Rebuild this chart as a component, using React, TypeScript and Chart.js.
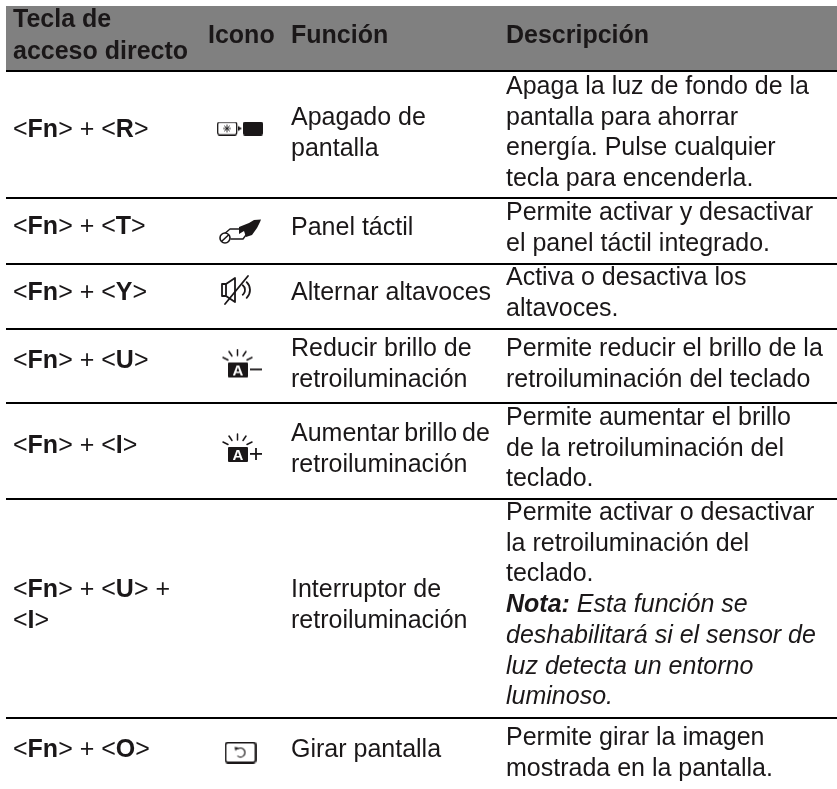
import React, { useEffect, useRef } from "react";
import { Chart, registerables } from "chart.js";

Chart.register(...registerables);

// ---- Table content ----
const headerKey = ["Tecla de", "acceso directo"];
const headerIcon = "Icono";
const headerFunction = "Función";
const headerDescription = "Descripción";

const hotkeys: string[][] = [
  ["<*Fn*> + <*R*>"],
  ["<*Fn*> + <*T*>"],
  ["<*Fn*> + <*Y*>"],
  ["<*Fn*> + <*U*>"],
  ["<*Fn*> + <*I*>"],
  ["<*Fn*> + <*U*> +", "<*I*>"],
  ["<*Fn*> + <*O*>"],
];
const functions: string[][] = [
  ["Apagado de", "pantalla"],
  ["Panel táctil"],
  ["Alternar altavoces"],
  ["Reducir brillo de", "retroiluminación"],
  ["Aumentar brillo de", "retroiluminación"],
  ["Interruptor de", "retroiluminación"],
  ["Girar pantalla"],
];
const descriptions: string[][] = [
  ["Apaga la luz de fondo de la", "pantalla para ahorrar", "energía. Pulse cualquier", "tecla para encenderla."],
  ["Permite activar y desactivar", "el panel táctil integrado."],
  ["Activa o desactiva los", "altavoces."],
  ["Permite reducir el brillo de la", "retroiluminación del teclado"],
  ["Permite aumentar el brillo", "de la retroiluminación del", "teclado."],
  ["Permite activar o desactivar", "la retroiluminación del", "teclado.", "~*Nota:*~ ~Esta función se~", "~deshabilitará si el sensor de~", "~luz detecta un entorno~", "~luminoso.~"],
  ["Permite girar la imagen", "mostrada en la pantalla."],
];

// ---- Values on the page scale ----
const columnStarts = [13, 208, 291, 506];
const ruleRows = [71, 198, 264, 329, 403, 499, 718];
const keyBaselines = [137, 234, 300, 368, 453, 597, 757];
const functionBaselines = [125, 235, 300, 356, 441, 597, 757];
const descriptionBaselines = [94, 220, 285, 356, 425, 520, 745];
const iconCenters = [241, 241, 238, 242, 242, NaN, 240.5];
const iconRows = [128.5, 231.5, 290, 363.5, 448, NaN, 752.5];

const INK = "#1a1718";
const FONT = '"Liberation Sans", Arial, sans-serif';
const SIZE = 25;
const LINE = 30.7;

function sprite(w: number, h: number, draw: (c: CanvasRenderingContext2D) => void) {
  const el = document.createElement("canvas");
  el.width = w;
  el.height = h;
  const c = el.getContext("2d")!;
  c.strokeStyle = INK;
  c.fillStyle = INK;
  c.lineCap = "round";
  c.lineJoin = "round";
  draw(c);
  return el;
}

function rr(c: CanvasRenderingContext2D, x: number, y: number, w: number, h: number, r: number) {
  c.beginPath();
  c.roundRect(x, y, w, h, r);
}

const burst = (c: CanvasRenderingContext2D) => {
  c.lineWidth = 1.5;
  const segs = [
    [16.5, 1, 16.5, 7],
    [8, 3, 11, 7.5],
    [25, 3, 22, 7.5],
    [2, 9, 7, 11.5],
    [31, 9, 26, 11.5],
  ];
  for (const s of segs) {
    c.beginPath();
    c.moveTo(s[0], s[1]);
    c.lineTo(s[2], s[3]);
    c.stroke();
  }
  rr(c, 7, 14, 20, 15, 1);
  c.fill();
  c.fillStyle = "#fff";
  c.font = `bold 15px ${FONT}`;
  c.textAlign = "center";
  c.fillText("A", 17, 27);
  c.fillStyle = INK;
};

function makeIcons() {
  const display = sprite(48, 14, (c) => {
    c.lineWidth = 1.3;
    rr(c, 0.7, 0.7, 19, 12.6, 2);
    c.stroke();
    c.lineWidth = 0.9;
    for (let i = 0; i < 4; i++) {
      const a = (i * Math.PI) / 4;
      c.beginPath();
      c.moveTo(10 - 3.5 * Math.cos(a), 7 - 3.5 * Math.sin(a));
      c.lineTo(10 + 3.5 * Math.cos(a), 7 + 3.5 * Math.sin(a));
      c.stroke();
    }
    c.beginPath();
    c.moveTo(21, 4.5);
    c.lineTo(25, 7);
    c.lineTo(21, 9.5);
    c.closePath();
    c.fill();
    rr(c, 26, 0, 20, 14, 2);
    c.fill();
  });
  const touch = sprite(44, 25, (c) => {
    c.lineWidth = 1.4;
    c.beginPath();
    c.moveTo(11, 10);
    c.lineTo(4, 16);
    c.moveTo(11, 10);
    c.lineTo(28, 10);
    c.moveTo(12, 20);
    c.lineTo(24, 20);
    c.lineTo(27, 16);
    c.stroke();
    c.beginPath();
    c.arc(6, 19, 5, 0, Math.PI * 2);
    c.fillStyle = "#fff";
    c.fill();
    c.lineWidth = 1.6;
    c.stroke();
    c.beginPath();
    c.moveTo(3, 22);
    c.lineTo(9.5, 16);
    c.stroke();
    c.fillStyle = INK;
    c.beginPath();
    c.moveTo(20, 8);
    c.lineTo(30, 4);
    c.lineTo(35, 1);
    c.lineTo(42, 0.5);
    c.lineTo(41, 3);
    c.lineTo(38, 9);
    c.lineTo(33, 16);
    c.lineTo(27, 18);
    c.lineTo(25, 12);
    c.lineTo(20, 15);
    c.closePath();
    c.fill();
  });
  const speaker = sprite(34, 32, (c) => {
    c.lineWidth = 1.8;
    c.beginPath();
    c.rect(1, 10, 4, 12);
    c.moveTo(5, 10);
    c.lineTo(14, 4);
    c.lineTo(14, 28);
    c.lineTo(5, 22);
    c.stroke();
    c.beginPath();
    c.moveTo(4, 30);
    c.lineTo(27, 2);
    c.stroke();
    c.beginPath();
    c.arc(18, 16, 6, -0.9, 0.9);
    c.stroke();
    c.beginPath();
    c.arc(18, 16, 11, -0.8, 0.8);
    c.stroke();
  });
  const dim = sprite(42, 30, (c) => {
    burst(c);
    c.fillRect(29, 20, 12, 1.8);
  });
  const bright = sprite(42, 30, (c) => {
    burst(c);
    c.fillRect(29, 20, 12, 1.8);
    c.fillRect(34.1, 15, 1.8, 12);
  });
  const rotate = sprite(32, 22, (c) => {
    c.lineWidth = 1.8;
    rr(c, 1, 1, 30, 20, 2.5);
    c.stroke();
    c.lineWidth = 1.2;
    c.beginPath();
    c.arc(16, 11, 4.5, -2.2, 2.2);
    c.stroke();
    c.beginPath();
    c.moveTo(10, 5.5);
    c.lineTo(14, 6);
    c.lineTo(11, 9.5);
    c.closePath();
    c.fill();
  });
  return [display, touch, speaker, dim, bright, null, rotate];
}

type Run = { text: string; bold: boolean; italic: boolean };

// "*" toggles bold and "~" toggles italic inside a table string.
function parseRuns(s: string): Run[] {
  const runs: Run[] = [];
  let bold = false;
  let italic = false;
  let buf = "";
  const flush = () => {
    if (buf) runs.push({ text: buf, bold, italic });
    buf = "";
  };
  for (const ch of s) {
    if (ch === "*") {
      flush();
      bold = !bold;
    } else if (ch === "~") {
      flush();
      italic = !italic;
    } else buf += ch;
  }
  flush();
  return runs;
}

function fontOf(r: { bold: boolean; italic: boolean }) {
  return `${r.italic ? "italic " : ""}${r.bold ? "bold " : ""}${SIZE}px ${FONT}`;
}

const tablePlugin = {
  id: "table",
  beforeDatasetsDraw(chart: any) {
    const { ctx, scales } = chart;
    const X = (v: number) => scales.x.getPixelForValue(v);
    const Y = (v: number) => scales.y.getPixelForValue(v);
    ctx.save();
    ctx.fillStyle = "#808080";
    ctx.fillRect(X(6), Y(6), X(837) - X(6), Y(ruleRows[0]) - Y(6));
    ctx.restore();
  },
  afterDatasetsDraw(chart: any) {
    const { ctx, scales } = chart;
    const X = (v: number) => scales.x.getPixelForValue(v);
    const Y = (v: number) => scales.y.getPixelForValue(v);
    const line = (s: string, x: number, y: number, forceBold = false) => {
      let px = X(x);
      ctx.wordSpacing = s.startsWith("Aumentar") ? "-2px" : "0px";
      for (const r of parseRuns(s)) {
        const run = { ...r, bold: r.bold || forceBold };
        ctx.font = fontOf(run);
        ctx.fillText(run.text, px, Y(y));
        px += ctx.measureText(run.text).width;
      }
    };
    ctx.save();
    ctx.fillStyle = INK;
    ctx.textBaseline = "alphabetic";
    line(headerKey[0], columnStarts[0], 27, true);
    line(headerKey[1], columnStarts[0], 59, true);
    line(headerIcon, columnStarts[1], 43, true);
    line(headerFunction, columnStarts[2], 43, true);
    line(headerDescription, columnStarts[3], 43, true);
    hotkeys.forEach((rows, i) => rows.forEach((s, k) => line(s, columnStarts[0], keyBaselines[i] + k * LINE)));
    functions.forEach((rows, i) => rows.forEach((s, k) => line(s, columnStarts[2], functionBaselines[i] + k * LINE)));
    descriptions.forEach((rows, i) => rows.forEach((s, k) => line(s, columnStarts[3], descriptionBaselines[i] + k * LINE)));
    ctx.restore();
  },
};

export default function App() {
  const ref = useRef<HTMLCanvasElement>(null);
  useEffect(() => {
    document.body.style.margin = "0";
    const icons = makeIcons();
    const iconPoints = iconCenters.map((x, i) => ({ x, y: iconRows[i] }));
    const chart = new Chart(ref.current!, {
      type: "scatter",
      data: {
        datasets: [
          ...ruleRows.map((y) => ({
            type: "line" as const,
            data: [
              { x: 6, y },
              { x: 837, y },
            ],
            borderColor: "#000",
            borderWidth: 2,
            pointRadius: 0,
          })),
          {
            data: iconPoints,
            pointStyle: icons.map((c) => c ?? "circle") as any,
            pointRadius: 12,
            showLine: false,
          },
        ],
      },
      options: {
        animation: false,
        responsive: false,
        events: [],
        layout: { padding: 0, autoPadding: false },
        plugins: { legend: { display: false }, tooltip: { enabled: false } },
        scales: {
          x: { type: "linear", min: 0, max: 837, display: false },
          y: { type: "linear", min: 0, max: 789, reverse: true, display: false },
        },
      },
      plugins: [tablePlugin],
    });
    return () => chart.destroy();
  }, []);
  return (
    <div style={{ position: "absolute", left: 0, top: 0, width: 837, height: 789, background: "#fff" }}>
      <canvas ref={ref} width={837} height={789} style={{ display: "block" }} />
    </div>
  );
}
